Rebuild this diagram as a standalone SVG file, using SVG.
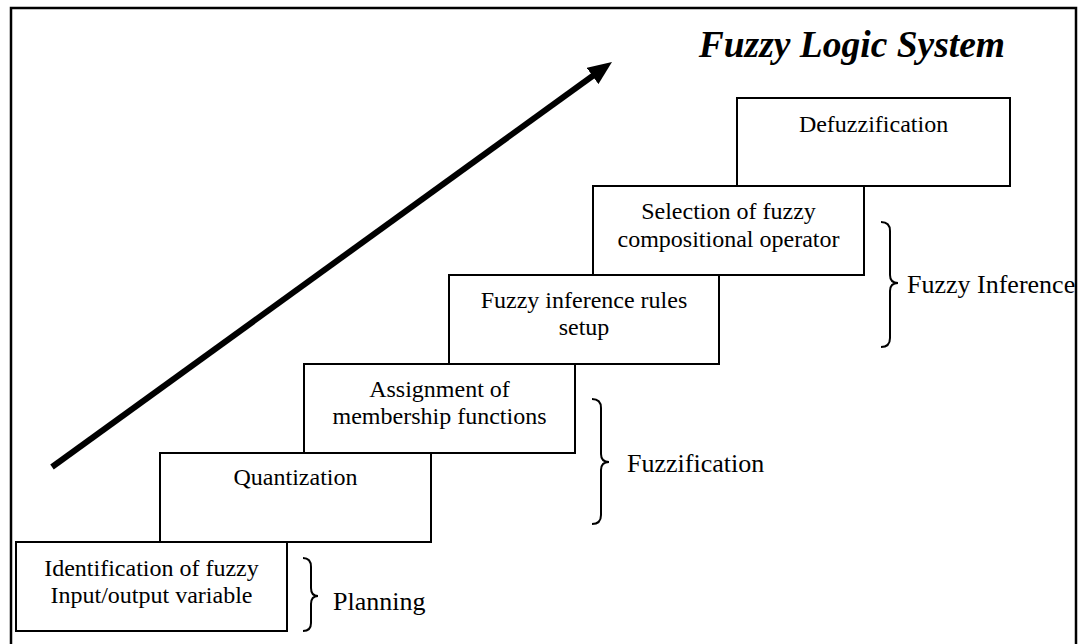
<svg xmlns="http://www.w3.org/2000/svg" width="1085" height="644" viewBox="0 0 1085 644">
<style>
.box{fill:#fff;stroke:#000;stroke-width:2}
.t{font-family:"Liberation Serif","Times New Roman",serif;font-size:24px;fill:#000;text-anchor:middle}
.lbl{font-family:"Liberation Serif","Times New Roman",serif;font-size:26px;fill:#000}
.brace{fill:none;stroke:#000;stroke-width:2}
</style>
<defs>
<marker id="ah" markerUnits="userSpaceOnUse" markerWidth="24" markerHeight="20" viewBox="0 0 24 20" refX="6" refY="10" orient="auto">
<path d="M0,0 L24,10 L0,20 Z" fill="#000"/>
</marker>
</defs>
<rect x="0" y="0" width="1085" height="644" fill="#fff"/>
<path d="M11,650 L11,8 L1076,8 L1076,650" fill="none" stroke="#000" stroke-width="2.5"/>
<text x="1005" y="57" font-family="'Liberation Serif','Times New Roman',serif" font-size="37.5" font-weight="bold" font-style="italic" text-anchor="end">Fuzzy Logic System</text>
<g id="connectors">
<line x1="52" y1="467" x2="597.4" y2="72.5" stroke="#000" stroke-width="6" marker-end="url(#ah)"/>
</g>
<g id="defuzz"><rect class="box" x="737" y="98" width="273" height="88"/><text class="t" x="873.5" y="131.5">Defuzzification</text></g>
<g id="selection"><rect class="box" x="593" y="186" width="271" height="89"/><text class="t" x="728.5" y="219">Selection of fuzzy</text><text class="t" x="728.5" y="247">compositional operator</text></g>
<g id="rules"><rect class="box" x="449" y="275" width="270" height="89"/><text class="t" x="584" y="308">Fuzzy inference rules</text><text class="t" x="584" y="335">setup</text></g>
<g id="assignment"><rect class="box" x="304" y="364" width="271" height="89"/><text class="t" x="439.5" y="397">Assignment of</text><text class="t" x="439.5" y="424">membership functions</text></g>
<g id="quantization"><rect class="box" x="160" y="453" width="271" height="89"/><text class="t" x="295.5" y="485">Quantization</text></g>
<g id="identification"><rect class="box" x="16" y="542" width="271" height="89"/><text class="t" x="151.5" y="576">Identification of fuzzy</text><text class="t" x="151.5" y="603">Input/output variable</text></g>
<g id="planning"><path class="brace" d="M303,558 Q311,558 311,567 L311,588 Q311,596 318,596 Q311,596 311,604 L311,623 Q311,631 303,631"/><text class="lbl" x="333" y="610">Planning</text></g>
<g id="fuzzification"><path class="brace" d="M592,399 Q601,399 601,408 L601,454 Q601,462 609,462 Q601,462 601,470 L601,515 Q601,524 592,524"/><text class="lbl" x="627" y="472">Fuzzification</text></g>
<g id="inference"><path class="brace" d="M881,222 Q890,222 890,231 L890,275 Q890,283 898,283 Q890,283 890,291 L890,338 Q890,347 881,347"/><text class="lbl" x="907" y="293">Fuzzy Inference</text></g>
</svg>
